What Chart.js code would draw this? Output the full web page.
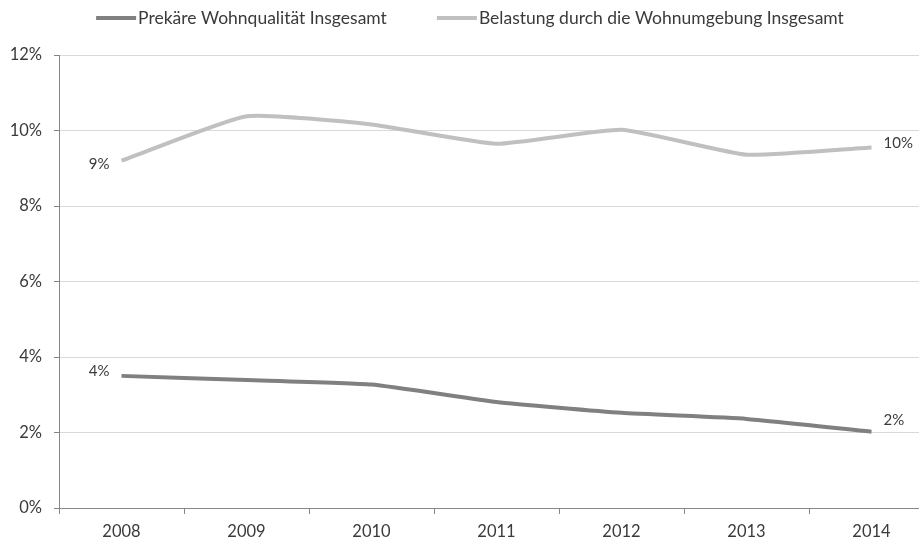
<!DOCTYPE html>
<html>
<head>
<meta charset="utf-8">
<script src="https://cdn.jsdelivr.net/npm/chart.js@4"></script>
<style>
html,body{margin:0;padding:0;background:#fff;overflow:hidden;}
#wrap{width:940px;height:543px;}
</style>
</head>
<body>
<div id="wrap"><canvas id="c" width="940" height="543"></canvas></div>
<script>
const years = ['2008','2009','2010','2011','2012','2013','2014'];
const prekaer = [3.50, 3.39, 3.27, 2.81, 2.52, 2.36, 2.02];
const belastung = [9.20, 10.38, 10.16, 9.65, 10.02, 9.36, 9.55];
const seriesNames = ['Prekäre Wohnqualität Insgesamt', 'Belastung durch die Wohnumgebung Insgesamt'];
const yTicks = [0, 2, 4, 6, 8, 10, 12];

const FONT = 'Lato, "Open Sans", sans-serif';
const TXT = '#3a3a3a';

const endLabels = {
  id: 'endLabels',
  afterDatasetsDraw(chart) {
    const ctx = chart.ctx;
    ctx.save();
    ctx.font = '15px ' + FONT;
    ctx.fillStyle = TXT;
    ctx.textBaseline = 'middle';
    chart.data.datasets.forEach((ds, di) => {
      const meta = chart.getDatasetMeta(di);
      const n = ds.data.length;
      const first = meta.data[0], last = meta.data[n - 1];
      const dyFirst = di === 0 ? -5 : 3;
      const dyLast = di === 0 ? -12 : -4;
      ctx.textAlign = 'right';
      ctx.fillText(Math.round(ds.data[0]) + '%', first.x - 12, first.y + dyFirst);
      ctx.textAlign = 'left';
      ctx.fillText(Math.round(ds.data[n - 1]) + '%', last.x + 12, last.y + dyLast);
    });
    ctx.restore();
  }
};

// custom legend: line sample + text, items centred on the canvas
const customLegend = {
  id: 'customLegend',
  afterDraw(chart) {
    const ctx = chart.ctx;
    ctx.save();
    ctx.font = '17.5px ' + FONT;
    ctx.textBaseline = 'middle';
    const lineW = 40, gapText = 2, gapItem = 50, y = 18;
    const items = chart.data.datasets.map(ds => ({ text: ds.label, color: ds.borderColor, w: ctx.measureText(ds.label).width }));
    let total = items.reduce((a, it) => a + lineW + gapText + it.w, 0) + gapItem * (items.length - 1);
    let x = chart.width / 2 - total / 2;
    items.forEach(it => {
      ctx.strokeStyle = it.color;
      ctx.lineWidth = 4;
      ctx.beginPath();
      ctx.moveTo(x, y);
      ctx.lineTo(x + lineW, y);
      ctx.stroke();
      ctx.fillStyle = TXT;
      ctx.textAlign = 'left';
      ctx.fillText(it.text, x + lineW + gapText, y);
      x += lineW + gapText + it.w + gapItem;
    });
    ctx.restore();
  }
};

new Chart(document.getElementById('c'), {
  type: 'line',
  data: {
    labels: years,
    datasets: [
      { label: seriesNames[0], data: prekaer, borderColor: '#808080', backgroundColor: '#808080', borderWidth: 4, pointRadius: 0, tension: 0.15 },
      { label: seriesNames[1], data: belastung, borderColor: '#c0c0c0', backgroundColor: '#c0c0c0', borderWidth: 4, pointRadius: 0, tension: 0.15 }
    ]
  },
  options: {
    responsive: false,
    animation: false,
    layout: { padding: { left: 0, right: 6, top: 55, bottom: 0 } },
    plugins: {
      legend: { display: false },
      tooltip: { enabled: false }
    },
    scales: {
      x: {
        offset: true,
        grid: { offset: true, drawOnChartArea: false, drawTicks: true, tickLength: 6, color: '#868686' },
        border: { color: '#868686' },
        ticks: { color: TXT, padding: 8, font: { family: FONT, size: 16.5 }, maxRotation: 0 },
        afterFit(s) { s.height = 35; }
      },
      y: {
        min: 0, max: 12,
        afterBuildTicks(s) { s.ticks = yTicks.map(v => ({ value: v })); },
        grid: { color: '#d9d9d9', tickColor: '#868686', tickLength: 5 },
        border: { color: '#868686' },
        ticks: { color: TXT, padding: 12, font: { family: FONT, size: 16.5 }, callback: v => v + '%' },
        afterFit(s) { s.width = 59; }
      }
    }
  },
  plugins: [customLegend, endLabels]
});
</script>
</body>
</html>
